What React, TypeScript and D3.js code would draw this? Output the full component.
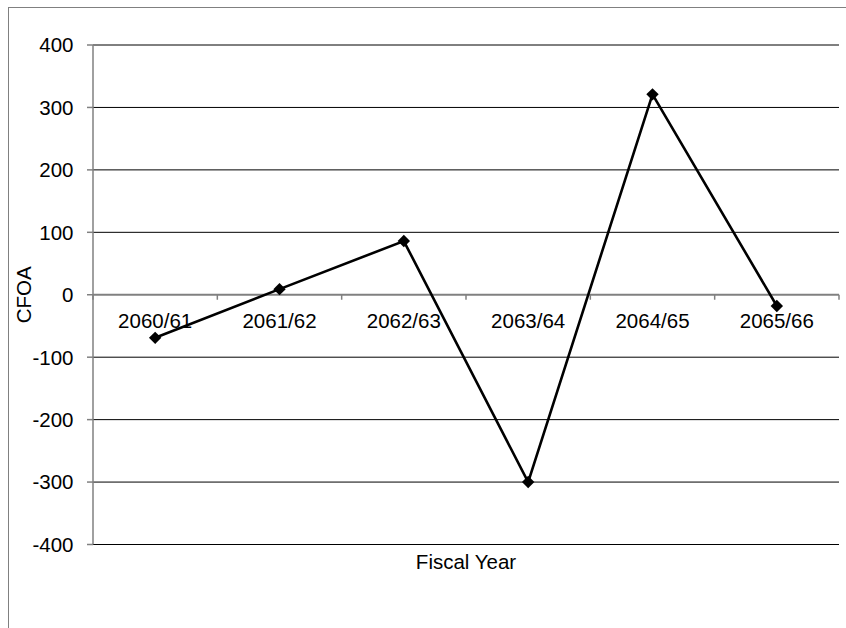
import React from "react";
import * as d3 from "d3";

// Cash flow from operating activities by fiscal year
const fiscalYears = ["2060/61", "2061/62", "2062/63", "2063/64", "2064/65", "2065/66"];
const cfoaValues = [-69, 9, 86, -300, 321, -18];
const yTicks = [400, 300, 200, 100, 0, -100, -200, -300, -400];

const W = 846;
const H = 628;
const FONT = "Arial, 'Liberation Sans', sans-serif";
const FS = 20.5;

export default function App() {
  const left = 93;
  const right = 839;
  const top = 45;
  const bottom = 544.5;

  const x = d3.scaleBand<string>().domain(fiscalYears).range([left, right]);
  const y = d3.scaleLinear().domain([-400, 400]).range([bottom, top]);

  const cx = (c: string) => (x(c) as number) + x.bandwidth() / 2;
  const zeroY = y(0);

  const line = d3
    .line<number>()
    .x((_, i) => cx(fiscalYears[i]))
    .y((v) => y(v));

  const diamond = d3.symbol().type(d3.symbolDiamond2).size(98)();

  const bandEdges = fiscalYears.map((c) => x(c) as number).concat([right]);

  return (
    <svg
      width={W}
      height={H}
      style={{ position: "absolute", left: 0, top: 0, background: "#fff" }}
      fontFamily={FONT}
    >
      {/* outer chart frame */}
      <rect x={8.5} y={7.5} width={900} height={700} fill="none" stroke="#808080" strokeWidth={1} />

      {/* horizontal gridlines */}
      {yTicks
        .filter((t) => t !== 0)
        .map((t) => (
          <line key={t} x1={left} x2={right} y1={y(t)} y2={y(t)} stroke="#000" strokeWidth={1} />
        ))}

      {/* value axis */}
      <line x1={left} x2={left} y1={top} y2={bottom} stroke="#808080" strokeWidth={1.5} />
      {yTicks.map((t) => (
        <g key={"yt" + t}>
          <line x1={left - 6} x2={left} y1={y(t)} y2={y(t)} stroke="#808080" strokeWidth={1.5} />
          <text x={73.5} y={y(t)} dy="0.36em" textAnchor="end" fontSize={FS} fill="#000">
            {t}
          </text>
        </g>
      ))}

      {/* category axis at zero */}
      <line x1={left} x2={right} y1={zeroY} y2={zeroY} stroke="#808080" strokeWidth={2} />
      {bandEdges.map((bx, i) => (
        <line key={"xt" + i} x1={bx} x2={bx} y1={zeroY} y2={zeroY + 5} stroke="#808080" strokeWidth={1.5} />
      ))}
      {fiscalYears.map((c) => (
        <text key={c} x={cx(c)} y={zeroY + 26} dy="0.36em" textAnchor="middle" fontSize={FS} fill="#000">
          {c}
        </text>
      ))}

      {/* series */}
      <path d={line(cfoaValues) || ""} fill="none" stroke="#000" strokeWidth={2.6} strokeLinejoin="miter" />
      {cfoaValues.map((v, i) => (
        <path key={"m" + i} d={diamond || ""} transform={`translate(${cx(fiscalYears[i])},${y(v)})`} fill="#000" />
      ))}

      {/* axis titles */}
      <text x={(left + right) / 2} y={561.7} dy="0.36em" textAnchor="middle" fontSize={FS} fill="#000">
        Fiscal Year
      </text>
      <text
        transform={`translate(23.7,${zeroY}) rotate(-90)`}
        dy="0.36em"
        textAnchor="middle"
        fontSize={FS}
        fill="#000"
      >
        CFOA
      </text>
    </svg>
  );
}
